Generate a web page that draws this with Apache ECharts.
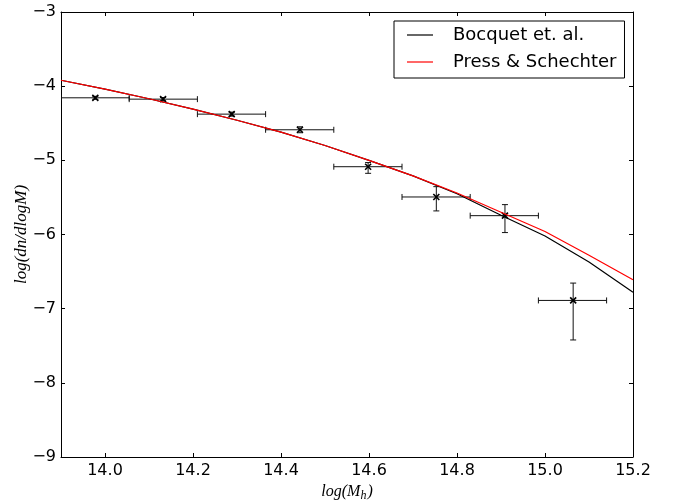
<!DOCTYPE html>
<html lang="en">
<head>
	<meta charset="UTF-8">
	<title></title>
	<style>html,body{margin:0;padding:0;background:#fff;}</style>
</head>
<body>
	<div id="hmf" style='width:675px;height:502px;'></div>
</body>
</html>
<script src="https://cdn.jsdelivr.net/npm/echarts@6/dist/echarts.min.js"></script>
<script>
// model curves, sampled every 0.1 in log(M)
var curveMass = [13.9, 14.0, 14.1, 14.2, 14.3, 14.4, 14.5, 14.6, 14.7, 14.8, 14.9, 15.0, 15.1, 15.2];
var bocquet   = [-3.92, -4.04, -4.17, -4.31, -4.46, -4.62, -4.80, -5.00, -5.21, -5.45, -5.74, -6.02, -6.37, -6.78];
var pressSch  = [-3.92, -4.04, -4.17, -4.31, -4.46, -4.62, -4.80, -5.00, -5.21, -5.44, -5.70, -5.96, -6.28, -6.61];

// measured points with bin edges and errors
var binCenter = [13.978, 14.132, 14.288, 14.443, 14.598, 14.753, 14.909, 15.064];
var binLow    = [13.900, 14.055, 14.210, 14.365, 14.520, 14.675, 14.830, 14.985];
var binHigh   = [14.055, 14.210, 14.365, 14.520, 14.675, 14.830, 14.985, 15.140];
var logN      = [-4.157, -4.175, -4.377, -4.588, -5.086, -5.494, -5.746, -6.889];
var logNLow   = [-4.177, -4.197, -4.404, -4.628, -5.175, -5.682, -5.974, -7.422];
var logNHigh  = [-4.137, -4.153, -4.350, -4.548, -5.030, -5.355, -5.597, -6.655];

var xTicks = [14.0, 14.2, 14.4, 14.6, 14.8, 15.0, 15.2];

function minusFmt(v){
  return String(v).replace('-', '\u2212');
}

var chart = echarts.init(document.getElementById('hmf'));

var bocquetData = [], psData = [], pointData = [];
for (var i = 0; i < curveMass.length; i++) {
  bocquetData.push([curveMass[i], bocquet[i]]);
  psData.push([curveMass[i], pressSch[i]]);
}
for (var j = 0; j < binCenter.length; j++) {
  pointData.push([binCenter[j], logN[j], binLow[j], binHigh[j], logNLow[j], logNHigh[j]]);
}

function renderErr(params, api){
  var c = api.coord([api.value(0), api.value(1)]);
  var l = api.coord([api.value(2), api.value(1)]);
  var r = api.coord([api.value(3), api.value(1)]);
  var b = api.coord([api.value(0), api.value(4)]);
  var t = api.coord([api.value(0), api.value(5)]);
  var cap = 3, m = 3;
  var st = {stroke: '#111', lineWidth: 1};
  var mk = {stroke: '#000', lineWidth: 1.6};
  return {
    type: 'group',
    children: [
      {type: 'line', shape: {x1: l[0], y1: c[1], x2: r[0], y2: c[1]}, style: st},
      {type: 'line', shape: {x1: l[0], y1: c[1] - cap, x2: l[0], y2: c[1] + cap}, style: st},
      {type: 'line', shape: {x1: r[0], y1: c[1] - cap, x2: r[0], y2: c[1] + cap}, style: st},
      {type: 'line', shape: {x1: c[0], y1: b[1], x2: c[0], y2: t[1]}, style: st},
      {type: 'line', shape: {x1: c[0] - cap, y1: b[1], x2: c[0] + cap, y2: b[1]}, style: st},
      {type: 'line', shape: {x1: c[0] - cap, y1: t[1], x2: c[0] + cap, y2: t[1]}, style: st},
      {type: 'line', shape: {x1: c[0] - m, y1: c[1] - m, x2: c[0] + m, y2: c[1] + m}, style: mk},
      {type: 'line', shape: {x1: c[0] - m, y1: c[1] + m, x2: c[0] + m, y2: c[1] - m}, style: mk}
    ]
  };
}

var axisLineStyle = {lineStyle: {color: '#000', width: 1}};
var tickStyle = {inside: true, length: 4, lineStyle: {color: '#000'}};

var option = {
  animation: false,
  textStyle: {fontFamily: 'DejaVu Sans'},
  grid: {left: 61, right: 42, top: 12, bottom: 45, containLabel: false, outerBoundsMode: 'none'},
  legend: {
    left: 394,
    top: 21,
    orient: 'vertical',
    itemWidth: 26,
    itemHeight: 14,
    itemGap: 7,
    padding: [4, 8, 6, 13],
    borderColor: '#000',
    borderWidth: 1,
    borderRadius: 0,
    backgroundColor: '#fff',
    textStyle: {fontSize: 18, color: '#000', fontFamily: 'DejaVu Sans', lineHeight: 20, padding: [0, 0, 0, 15]},
    data: [{name: 'Bocquet et. al.', icon: 'path://M0,0L26,0L26,1.2L0,1.2Z'}, {name: 'Press & Schechter', icon: 'path://M0,0L26,0L26,1.2L0,1.2Z'}]
  },
  xAxis: [
    {
      type: 'value', position: 'bottom', min: 13.9, max: 15.2,
      axisLine: axisLineStyle,
      axisTick: {inside: true, length: 4, lineStyle: {color: '#000'}, customValues: xTicks},
      axisLabel: {customValues: xTicks, color: '#000', fontSize: 16, margin: 6,
        formatter: function(v){ return v.toFixed(1); }},
      splitLine: {show: false},
      name: '{i|log(M}{s|h}{i|)}',
      nameLocation: 'middle',
      nameGap: 25,
      nameMoveOverlap: false,
      nameTextStyle: {
        rich: {
          i: {fontFamily: 'Liberation Serif', fontStyle: 'italic', fontSize: 16, color: '#000'},
          s: {fontFamily: 'Liberation Serif', fontStyle: 'italic', fontSize: 12, color: '#000', padding: [8, 1, 0, 0]}
        }
      }
    },
    {
      type: 'value', position: 'top', min: 13.9, max: 15.2,
      axisLine: axisLineStyle,
      axisTick: {inside: true, length: 4, lineStyle: {color: '#000'}, customValues: xTicks},
      axisLabel: {show: false},
      splitLine: {show: false}
    }
  ],
  yAxis: [
    {
      type: 'value', position: 'left', min: -9, max: -3, interval: 1,
      axisLine: {show: true, lineStyle: {color: '#000', width: 1}},
      axisTick: tickStyle,
      axisLabel: {color: '#000', fontSize: 16, margin: 5, formatter: minusFmt},
      splitLine: {show: false},
      name: 'log(dn/dlogM)',
      nameLocation: 'middle',
      nameGap: 31,
      nameMoveOverlap: false,
      nameTextStyle: {fontFamily: 'Liberation Serif', fontStyle: 'italic', fontSize: 17, color: '#000'}
    },
    {
      type: 'value', position: 'right', min: -9, max: -3, interval: 1,
      axisLine: {show: true, lineStyle: {color: '#000', width: 1}},
      axisTick: tickStyle,
      axisLabel: {show: false},
      splitLine: {show: false}
    }
  ],
  series: [
    {
      name: 'Bocquet et. al.', type: 'line', data: bocquetData,
      symbol: 'none',
      itemStyle: {color: '#000'},
      lineStyle: {color: '#000', width: 1.2}, z: 3
    },
    {
      name: 'Press & Schechter', type: 'line', data: psData,
      symbol: 'none',
      itemStyle: {color: '#ff0000'},
      lineStyle: {color: '#ff0000', width: 1.2}, z: 4
    },
    {
      name: 'data', type: 'custom', data: pointData,
      renderItem: renderErr, clip: true, z: 2
    }
  ]
};
chart.setOption(option);
</script>
